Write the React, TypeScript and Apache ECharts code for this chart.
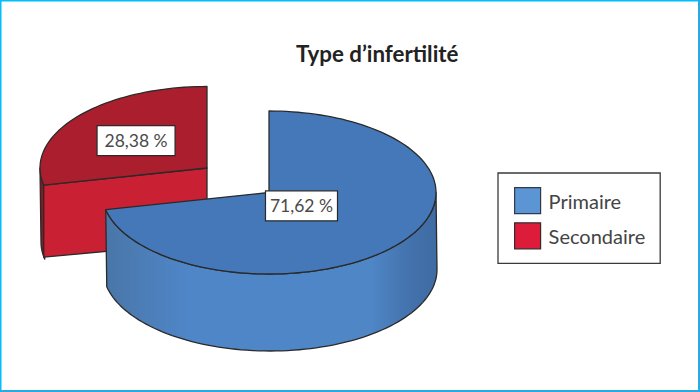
import React, { useEffect, useRef } from "react";
import * as echarts from "echarts";

const titleText = "Type d’infertilité";
const categories = ["Primaire", "Secondaire"];
const values = [71.62, 28.38];

const total = values.reduce((a, b) => a + b, 0);
const FONT = 'Lato, "Noto Sans", sans-serif';
const INK = "#2a2a2a";
const RX = 167;
const RY = 81.5;

const looks: any = {
  Primaire: {
    cx: 269, cy: 192.5, depth: 77, labelK: 0.25, start: 0, boxW: 72,
    top: "#4478b9",
    front: "#4478b9",
    side: {
      type: "linear", x: 0, y: 0, x2: 1, y2: 0,
      colorStops: [
        { offset: 0, color: "#4a76a8" },
        { offset: 0.25, color: "#4f86c8" },
        { offset: 0.8, color: "#4f86c6" },
        { offset: 0.93, color: "#4270aa" },
        { offset: 1, color: "#3f6ca3" },
      ],
    },
  },
  Secondaire: {
    cx: 207, cy: 168, depth: 74, labelK: 0.546, start: values[0], boxW: 78,
    top: "#ab1e2d",
    front: "#c92033",
    side: "#8a1825",
  },
};

const rad = (d: number) => (d * Math.PI) / 180;

function arc(cx: number, cy: number, a0: number, a1: number): number[][] {
  const n = Math.max(2, Math.ceil(Math.abs(a1 - a0) / 2));
  const pts: number[][] = [];
  for (let i = 0; i <= n; i++) {
    const a = rad(a0 + ((a1 - a0) * i) / n);
    pts.push([cx + RX * Math.sin(a), cy - RY * Math.cos(a)]);
  }
  return pts;
}

const poly = (points: number[][], fill: any) => ({
  type: "polygon",
  shape: { points },
  style: { fill, stroke: INK, lineWidth: 1.3, lineJoin: "round" },
});

function renderSlice(name: string) {
  return (_params: any, api: any) => {
    const v = api.value(0);
    const L = looks[name];
    const a0 = (L.start / total) * 360;
    const a1 = a0 + (v / total) * 360;
    const { cx, cy, depth } = L;
    const children: any[] = [];

    const s0 = Math.max(a0, 90);
    const s1 = Math.min(a1, 270);
    if (s1 > s0) {
      const upper = arc(cx, cy, s0, s1);
      const lower = arc(cx + 1, cy + depth, s1, s0);
      children.push(poly([...upper, ...lower], L.side));
    }
    if (Math.sin(rad(a0)) < -0.01) {
      const e = arc(cx, cy, a0, a0)[0];
      children.push(
        poly([[cx, cy], e, [e[0], e[1] + depth - 2], [cx, cy + depth]], L.front)
      );
    }
    children.push(poly([[cx, cy], ...arc(cx, cy, a0, a1)], L.top));

    const mid = rad((a0 + a1) / 2);
    const lx = cx + RX * L.labelK * Math.sin(mid);
    const ly = cy - RY * L.labelK * Math.cos(mid);
    children.push({
      type: "rect",
      shape: { x: lx - L.boxW / 2, y: ly - 14.5, width: L.boxW, height: 30 },
      style: { fill: "#ffffff", stroke: INK, lineWidth: 1.2 },
    });
    children.push({
      type: "text",
      style: {
        x: lx, y: ly + 0.5,
        text: v.toFixed(2).replace(".", ",") + " %",
        fill: "#4a4a4a", font: `17.5px ${FONT}`,
        textAlign: "center", textVerticalAlign: "middle",
      },
    });
    return { type: "group", children };
  };
}

export default function App() {
  const ref = useRef<HTMLDivElement>(null);
  useEffect(() => {
    document.body.style.margin = "0";
    const chart = echarts.init(ref.current!, undefined, { renderer: "svg" });
    chart.setOption({
      animation: false,
      backgroundColor: "#ffffff",
      title: {
        text: titleText,
        left: 291,
        top: 37,
        textStyle: { fontFamily: FONT, fontSize: 22.3, fontWeight: "bold", color: "#222222" },
      },
      legend: {
        left: 498,
        top: 173,
        orient: "vertical",
        backgroundColor: "#ffffff",
        borderColor: "#3a3a3a",
        borderWidth: 1.3,
        padding: [14, 15, 14, 16],
        itemWidth: 26,
        itemHeight: 26,
        itemGap: 8,
        selectedMode: false,
        icon: "rect",
        textStyle: { fontFamily: FONT, fontSize: 20, color: "#444444", padding: [0, 0, 0, 3] },
        data: [
          { name: categories[0], itemStyle: { color: "#5b95d3", borderColor: "#2f3a4a", borderWidth: 1.2 } },
          { name: categories[1], itemStyle: { color: "#dc1c3a", borderColor: "#3a2a2a", borderWidth: 1.2 } },
        ],
      },
      graphic: [
        { type: "polyline", shape: { points: [[0.75, 392], [0.75, 0.75], [700, 0.75]] }, style: { fill: "none", stroke: "#00bfff", lineWidth: 1.5 } },
        { type: "polyline", shape: { points: [[699, 0], [699, 391], [0, 391]] }, style: { fill: "none", stroke: "#29abe2", lineWidth: 2 } },
      ],
      series: [
        { type: "custom", name: categories[1], coordinateSystem: "none", silent: true, z: 2, data: [[values[1]]], renderItem: renderSlice(categories[1]) },
        { type: "custom", name: categories[0], coordinateSystem: "none", silent: true, z: 3, data: [[values[0]]], renderItem: renderSlice(categories[0]) },
      ],
    });
    return () => chart.dispose();
  }, []);
  return <div ref={ref} style={{ width: 700, height: 392 }} />;
}
